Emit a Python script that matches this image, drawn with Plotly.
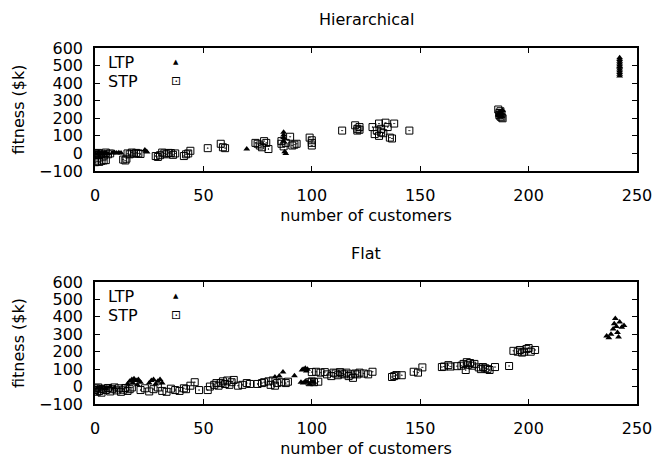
import plotly.graph_objects as go
from plotly.subplots import make_subplots

# ---------------- data ----------------
x_ticks = [0, 50, 100, 150, 200, 250]
y_ticks = [-100, 0, 100, 200, 300, 400, 500, 600]

hier_ltp_x = [0, 1, 2, 3, 4, 5, 6, 8, 9, 10, 11, 12, 23, 23.5, 24, 70,
              87, 87, 87, 87, 87.5, 88, 186, 187, 187, 188, 186.5, 187.5,
              242, 242, 242, 242, 242, 242, 242, 242, 242, 242, 242, 242]
hier_ltp_y = [0, -5, 2, -3, 0, 3, -2, 3, 5, 2, 4, 3, 20, 12, 8, 25,
              120, 105, 90, 70, 10, 0, 220, 235, 210, 245, 228, 215,
              545, 535, 525, 515, 505, 495, 490, 480, 470, 460, 450, 440]

hier_stp_x = [0, 0.5, 1, 1.5, 2, 3, 4, 5, 6, 7,
              0, 1, 2, 3, 4, 5,
              13, 14, 14.5,
              15, 16, 17, 18, 19, 20, 21,
              28, 29, 30, 31, 32, 33, 34, 35, 36, 37,
              41, 42, 43, 44, 52,
              58, 59, 60,
              74, 75, 76, 77, 78, 79, 80,
              86, 86, 87, 88,
              90, 91, 92, 93,
              99, 100, 100, 100,
              114,
              120, 121, 121, 122, 122,
              128, 129, 130, 131, 131, 132, 132, 133, 134, 135, 136, 137, 138,
              145,
              186, 186.5, 187, 187, 187.5, 188, 186.5, 187.5]
hier_stp_y = [0, -5, -10, 3, -8, -2, -12, 5, -5, 0,
              -50, -45, -48, -42, -40, -38,
              -35, -40, -30,
              0, -5, 5, -2, 3, 0, -3,
              -15, -20, -10, 5, 0, -5, 3, 2, -8, 0,
              -15, -5, 0, 15, 30,
              55, 35, 30,
              60, 55, 45, 35, 70, 60, 25,
              70, 55, 40, 60,
              95, 45, 50, 55,
              90, 75, 60, 45,
              130,
              160, 140, 130, 150, 135,
              150, 110, 130, 100, 170, 140, 120, 115, 175, 150, 90, 85, 170,
              130,
              250, 230, 240, 210, 225, 200, 218, 205]

flat_ltp_x = [1, 3, 5, 7, 9,
              15, 16, 17, 17.5, 18, 19, 19.5, 20, 21,
              25, 26, 27, 28, 29, 30, 31,
              83, 85, 86.7, 92, 95.5, 96, 97, 97.5, 98,
              95, 96, 97, 98, 99, 100, 101,
              236, 237, 238, 239, 239.5, 240, 240.5, 241, 241.5, 242, 243, 244]
flat_ltp_y = [-10, -5, -12, 0, -8,
              15, 30, 40, 20, 45, 35, 10, 40, 25,
              20, 35, 40, 15, 30, 40, 20,
              55, 60, 83, 62, 95, 100, 105, 90, 100,
              25, 20, 30, 25, 15, 28, 25,
              290, 280, 300, 330, 360, 390, 345, 310, 285, 370, 340, 350]

flat_stp_x = [0, 0.5, 1, 1.5, 2, 2.5, 3, 4, 5, 6, 7, 8, 9, 10, 11, 12, 13, 14, 15, 16, 17,
              21, 23, 25, 27, 29, 31, 33, 35, 37, 39, 41,
              42, 44, 46, 48, 52, 56,
              53, 55, 57, 58, 59, 60, 61, 62, 63, 64, 66, 68, 70, 71.5,
              75, 77, 78, 80, 81, 82, 83, 84,
              86, 88, 89,
              99, 100, 101, 103,
              100, 102, 104, 106,
              107, 109, 110, 111, 112, 113,
              114, 115, 116, 117, 118, 119, 120, 121, 122, 124, 126, 128,
              137, 138, 139, 141.5,
              147, 149, 151,
              160, 161, 163, 164, 167,
              169, 170, 171, 171.5, 172, 173, 174, 175,
              177, 178, 179, 180, 181, 182, 184.5,
              191,
              193, 195, 196, 197, 198, 199, 200, 201, 203]
flat_stp_y = [-20, -10, -30, -5, -25, -15, -35, -12, -20, -8, -28, -15, -5, -22, -10, -30, -18, -8, -25, -15, -5,
              -20, -10, -28, -15, -5, -25, -30, -12, -20, -25, -10,
              -15, 5, 25, -20, -20, 20,
              0, 10, 5, 20, 30, 15, 35, 10, 25, 38, 5, 10, 20, 15,
              15, 20, 25, 30, 10, 35, 5, 20,
              25, 20, 28,
              25, 30, 25, 28,
              83, 85, 80, 83,
              70, 60, 80, 75, 65, 83,
              75, 70, 80, 60, 70, 50, 75, 70, 80, 75, 70, 85,
              55, 60, 66, 65,
              85, 80, 110,
              112, 115, 123, 115, 117,
              120, 130, 95, 140, 125, 135, 120, 130,
              110, 100, 112, 105, 100, 95, 112,
              118,
              205, 200, 210, 195, 200, 215, 221, 200, 210]

assert len(hier_ltp_x) == len(hier_ltp_y)
assert len(hier_stp_x) == len(hier_stp_y)
assert len(flat_ltp_x) == len(flat_ltp_y)
assert len(flat_stp_x) == len(flat_stp_y)

# ---------------- figure ----------------
FONT = "DejaVu Sans, Liberation Sans, Arial, sans-serif"
FS = 16
fig = make_subplots(rows=2, cols=1)

tri = dict(symbol="triangle-up", size=6, color="black", line=dict(width=0))
sq = dict(symbol="square-open-dot", size=7, color="black", line=dict(width=1, color="#222"))

for row, (lx, ly, sx, sy) in enumerate([(hier_ltp_x, hier_ltp_y, hier_stp_x, hier_stp_y),
                                          (flat_ltp_x, flat_ltp_y, flat_stp_x, flat_stp_y)], start=1):
    fig.add_trace(go.Scatter(x=lx, y=ly, mode="markers", marker=tri, name="LTP",
                             showlegend=False), row=row, col=1)
    fig.add_trace(go.Scatter(x=sx, y=sy, mode="markers", marker=sq, name="STP",
                             showlegend=False), row=row, col=1)

axis_common = dict(showline=True, linecolor="black", linewidth=1.5, mirror="ticks",
                   ticks="inside", ticklen=5, tickwidth=1, tickcolor="black",
                   showgrid=False, zeroline=False, automargin=False,
                   tickfont=dict(family=FONT, size=FS, color="black"))

# plot areas (px): top y 48..171, bottom y 282..404; x 95..637
W, H = 657, 459
top_t, bot_b = 48, 55
ph = H - top_t - bot_b
dom_top = [(404 - 171) / ph, 1.0]
dom_bot = [0.0, (404 - 282) / ph]

for ax, dom in (("yaxis", dom_top), ("yaxis2", dom_bot)):
    fig.layout[ax].update(range=[-100, 600], tickvals=y_ticks, domain=dom,
                          ticklabelstandoff=7,
                          title=dict(text="fitness ($k)", standoff=10,
                                     font=dict(family=FONT, size=FS, color="black")),
                          **axis_common)
for ax in ("xaxis", "xaxis2"):
    fig.layout[ax].update(range=[0, 250], tickvals=x_ticks, domain=[0, 1],
                          ticklabelstandoff=9,
                          title=dict(text="number of customers", standoff=6,
                                     font=dict(family=FONT, size=FS, color="black")),
                          **axis_common)

annotations = [
    dict(text="Hierarchical", x=0.5, xref="x domain", y=1, yref="y domain", yshift=17,
         xanchor="center", yanchor="bottom", showarrow=False,
         font=dict(family=FONT, size=FS, color="black")),
    dict(text="Flat", x=0.5, xref="x2 domain", y=1, yref="y2 domain", yshift=17,
         xanchor="center", yanchor="bottom", showarrow=False,
         font=dict(family=FONT, size=FS, color="black")),
]
for xr, yr in (("x domain", "y domain"), ("x2 domain", "y2 domain")):
    for i, (lab, glyph, gsize) in enumerate((("LTP", "\u25B2", 7), ("STP", "\u22A1", 12))):
        yy = 1 - (14 + 19 * i) / 122
        annotations.append(dict(text=lab, x=(106 - 95) / 542, xref=xr, y=yy, yref=yr,
                                xanchor="left", yanchor="middle", showarrow=False,
                                font=dict(family=FONT, size=FS, color="black")))
        annotations.append(dict(text=glyph, x=(176 - 95) / 542, xref=xr, y=yy, yref=yr,
                                xanchor="center", yanchor="middle", showarrow=False,
                                font=dict(family="DejaVu Sans", size=gsize, color="black")))

fig.update_layout(width=W, height=H, margin=dict(l=95, r=20, t=top_t, b=bot_b),
                  plot_bgcolor="white", paper_bgcolor="white",
                  annotations=annotations, showlegend=False)

fig.write_html("out.html", config={"displayModeBar": False},
               post_script="document.body.style.margin='0';document.body.style.overflow='hidden';")
